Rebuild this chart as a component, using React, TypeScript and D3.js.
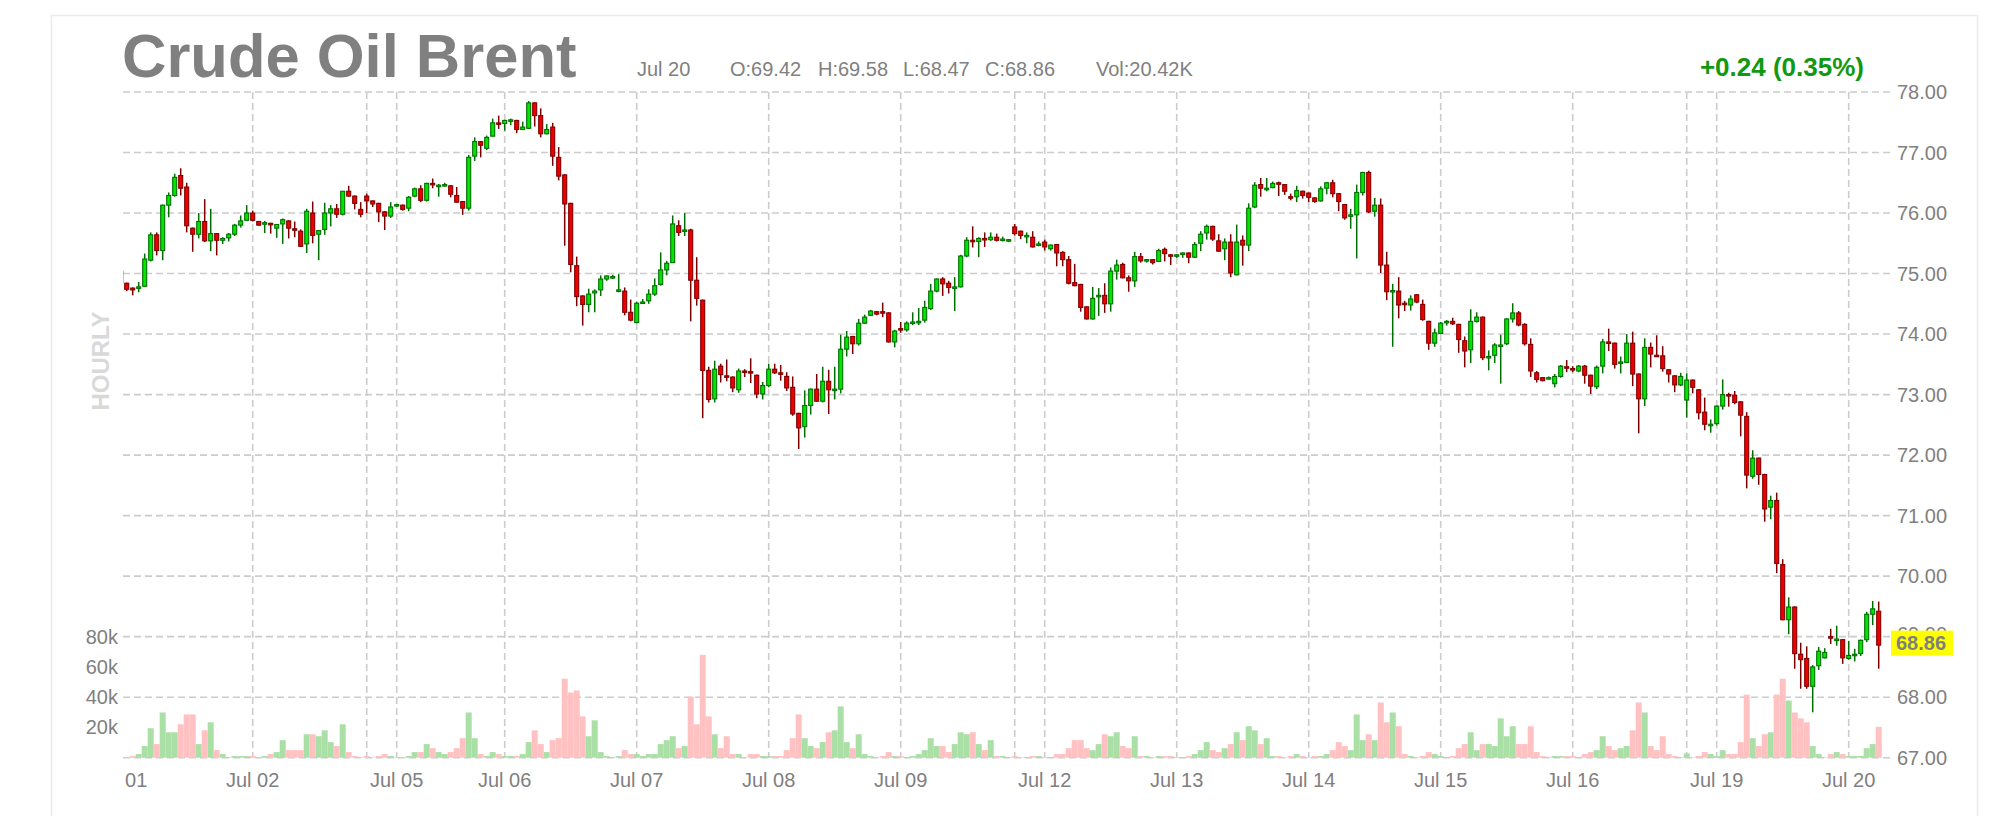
import React from 'react';
import * as d3 from 'd3';

// ---- data (hourly candles, index 0..293) ----
const opens = [
75.04,74.84,74.76,74.76,74.79,75.22,75.64,75.38,76.13,76.29,
76.62,76.43,75.75,75.65,75.86,75.54,75.66,75.55,75.59,75.65,
75.80,75.88,76.00,75.86,75.82,75.83,75.75,75.82,75.87,75.74,
75.70,75.49,76.00,75.65,75.73,76.00,76.07,75.98,76.36,76.28,
76.06,76.28,76.20,76.16,76.02,75.95,76.12,76.13,76.08,76.28,
76.40,76.21,76.49,76.45,76.46,76.45,76.29,76.19,76.08,76.94,
77.18,77.07,77.27,77.49,77.48,77.53,77.53,77.38,77.40,77.82,
77.61,77.31,77.42,76.92,76.63,76.16,75.13,74.63,74.49,74.68,
74.73,74.91,74.94,74.72,74.71,74.36,74.19,74.52,74.55,74.66,
74.82,75.06,75.18,75.79,75.71,75.72,74.89,74.56,73.40,72.93,
73.47,73.31,73.29,73.08,73.39,73.38,73.32,73.01,73.15,73.42,
73.36,73.30,73.12,72.69,72.47,72.82,73.09,72.89,73.22,73.08,
73.09,73.75,73.96,73.84,74.18,74.31,74.37,74.37,74.35,73.87,
74.09,74.07,74.19,74.20,74.23,74.42,74.71,74.91,74.84,74.77,
74.78,75.29,75.55,75.53,75.58,75.56,75.60,75.56,75.54,75.77,
75.70,75.62,75.60,75.47,75.52,75.41,75.48,75.35,75.23,74.85,
74.82,74.45,74.25,74.63,74.64,74.50,75.04,75.15,74.93,74.88,
75.28,75.22,75.23,75.20,75.40,75.31,75.30,75.33,75.34,75.27,
75.50,75.67,75.78,75.54,75.41,75.52,74.98,75.55,75.47,76.10,
76.47,76.40,76.42,76.50,76.47,76.27,76.27,76.36,76.33,76.25,
76.20,76.41,76.50,76.32,76.14,75.96,75.97,76.34,76.67,76.03,
76.13,75.14,74.71,74.71,74.51,74.48,74.65,74.49,74.21,73.85,
74.01,74.20,74.21,74.16,73.89,73.74,74.21,74.28,73.62,73.65,
73.81,73.84,74.25,74.35,74.16,73.83,73.36,73.28,73.27,73.18,
73.30,73.46,73.43,73.39,73.47,73.32,73.13,73.47,73.87,73.85,
73.53,73.53,73.85,73.34,72.93,73.78,73.65,73.64,73.41,73.31,
73.16,72.91,73.24,73.08,72.71,72.50,72.52,72.81,73.00,72.99,
72.88,72.64,71.65,71.95,71.68,71.14,71.25,70.19,69.28,69.49,
68.71,68.64,68.18,68.52,68.65,69.00,68.95,68.95,68.64,68.70,
68.72,68.95,69.37,69.42,
];

const highs = [
75.06,74.85,74.77,74.86,75.33,75.68,75.68,76.14,76.34,76.65,
76.74,76.50,75.76,76.00,76.23,76.07,75.67,75.60,75.67,75.82,
75.96,76.13,76.04,75.87,75.87,75.84,75.82,75.91,75.88,75.86,
75.73,76.07,76.19,75.72,76.17,76.13,76.15,76.36,76.45,76.29,
76.18,76.32,76.21,76.17,76.03,76.18,76.15,76.14,76.28,76.42,
76.46,76.50,76.57,76.48,76.50,76.46,76.43,76.20,76.96,77.25,
77.19,77.28,77.56,77.61,77.54,77.56,77.54,77.51,77.85,77.83,
77.73,77.47,77.49,77.09,76.64,76.17,75.28,74.64,74.75,74.74,
74.97,74.97,74.98,74.99,74.77,74.57,74.53,74.58,74.74,74.92,
75.35,75.21,75.96,75.88,76.00,75.74,75.27,74.57,73.46,73.56,
73.51,73.58,73.30,73.43,73.42,73.60,73.33,73.21,73.51,73.51,
73.49,73.37,73.30,72.70,73.07,73.10,73.34,73.46,73.41,73.46,
73.99,74.05,73.97,74.25,74.32,74.40,74.38,74.52,74.36,74.07,
74.20,74.21,74.36,74.43,74.55,74.83,74.92,74.94,74.88,74.94,
75.31,75.60,75.78,75.60,75.68,75.68,75.66,75.61,75.57,75.82,
75.71,75.68,75.70,75.53,75.56,75.48,75.49,75.37,75.29,75.16,
74.83,74.46,74.78,74.76,74.84,75.10,75.23,75.18,74.97,75.36,
75.34,75.24,75.24,75.41,75.43,75.32,75.32,75.35,75.35,75.52,
75.70,75.81,75.79,75.65,75.58,75.65,75.81,75.63,76.16,76.51,
76.58,76.58,76.52,76.52,76.48,76.32,76.45,76.37,76.34,76.26,
76.44,76.51,76.55,76.33,76.15,76.07,76.47,76.68,76.70,76.25,
76.24,75.36,74.83,74.94,74.55,74.64,74.66,74.57,74.22,74.09,
74.20,74.23,74.27,74.17,73.96,74.41,74.36,74.29,73.73,73.85,
73.99,74.26,74.51,74.38,74.18,73.93,73.39,73.29,73.30,73.34,
73.49,73.57,73.47,73.49,73.49,73.33,73.48,73.92,74.09,73.86,
73.63,74.00,74.04,73.35,73.93,73.86,73.98,73.80,73.42,73.32,
73.36,73.35,73.25,73.09,72.95,72.59,72.82,73.25,73.03,73.06,
72.89,72.71,72.08,71.96,71.69,71.33,71.38,70.28,69.65,69.50,
68.90,68.84,68.53,68.83,68.81,69.13,69.18,68.96,68.93,68.80,
68.95,69.41,69.59,69.58,
];

const lows = [
74.84,74.71,74.64,74.69,74.78,75.20,75.30,75.22,75.93,76.27,
76.29,75.68,75.36,75.58,75.52,75.37,75.30,75.49,75.53,75.62,
75.76,75.87,75.86,75.79,75.67,75.66,75.59,75.49,75.58,75.60,
75.44,75.34,75.50,75.22,75.64,75.78,75.92,75.96,76.27,76.06,
75.93,76.00,76.10,75.85,75.72,75.92,76.10,76.04,76.03,76.26,
76.18,76.19,76.41,76.27,76.44,76.26,76.17,75.97,76.04,76.86,
76.92,77.04,77.27,77.39,77.36,77.45,77.32,77.37,77.39,77.43,
77.25,77.30,76.78,76.54,75.46,75.02,74.46,74.14,74.36,74.36,
74.63,74.88,74.91,74.69,74.31,74.21,74.18,74.50,74.50,74.63,
74.80,74.97,75.18,75.62,75.62,74.21,74.47,72.61,72.87,72.87,
73.20,73.22,73.04,73.03,73.29,73.19,72.94,72.92,73.12,73.34,
73.23,73.06,72.65,72.10,72.29,72.67,72.88,72.87,72.68,72.92,
73.02,73.63,73.67,73.81,74.17,74.30,74.31,74.28,73.86,73.78,
74.02,74.04,74.15,74.15,74.19,74.40,74.69,74.63,74.67,74.38,
74.77,75.27,75.43,75.27,75.44,75.54,75.53,75.53,75.52,75.63,
75.57,75.50,75.43,75.45,75.38,75.38,75.12,75.12,74.82,74.79,
74.37,74.24,74.24,74.30,74.35,74.37,74.90,74.92,74.70,74.78,
75.18,75.18,75.15,75.19,75.20,75.14,75.26,75.26,75.17,75.26,
75.37,75.56,75.54,75.36,75.22,74.94,74.97,75.13,75.37,76.08,
76.27,76.36,76.41,76.28,76.30,76.21,76.18,76.24,76.18,76.17,
76.19,76.31,76.26,76.03,75.89,75.74,75.25,76.29,76.00,75.94,
75.01,74.56,73.79,74.26,74.38,74.39,74.51,74.22,73.74,73.79,
74.00,74.14,74.15,73.69,73.45,73.52,74.19,73.57,73.40,73.52,
73.18,73.82,74.19,74.13,73.81,73.29,73.20,73.22,73.26,73.12,
73.28,73.37,73.37,73.37,73.18,73.01,73.09,73.35,73.72,73.43,
73.35,73.52,73.14,72.36,72.81,73.45,73.63,73.38,73.20,73.04,
73.14,72.62,73.02,72.59,72.41,72.37,72.49,72.75,72.80,72.84,
72.31,71.45,71.61,71.51,70.90,70.94,70.05,69.27,69.04,68.47,
68.14,68.14,67.75,68.45,68.64,68.88,68.85,68.55,68.62,68.59,
68.68,68.91,69.19,68.47,
];

const closes = [
74.85,74.74,74.73,74.78,75.24,75.64,75.38,76.13,76.29,76.59,
76.41,75.79,75.65,75.86,75.54,75.66,75.55,75.58,75.65,75.80,
75.87,76.00,75.88,75.80,75.84,75.82,75.81,75.89,75.75,75.73,
75.45,76.03,75.63,75.71,76.00,76.07,75.98,76.36,76.28,76.16,
75.98,76.20,76.15,76.02,75.95,76.10,76.14,76.06,76.26,76.40,
76.21,76.49,76.47,76.46,76.47,76.31,76.18,76.08,76.92,77.18,
77.12,77.25,77.49,77.48,77.53,77.54,77.38,77.42,77.82,77.61,
77.31,77.38,76.94,76.61,76.15,75.15,74.62,74.49,74.66,74.71,
74.91,74.96,74.95,74.73,74.36,74.23,74.51,74.53,74.66,74.80,
75.06,75.17,75.82,75.68,75.72,74.89,74.59,73.40,72.92,73.42,
73.33,73.30,73.11,73.39,73.38,73.36,73.01,73.15,73.42,73.36,
73.35,73.11,72.68,72.45,72.82,73.09,72.89,73.22,73.08,73.09,
73.75,73.95,73.84,74.18,74.28,74.38,74.33,74.36,73.87,74.05,
74.08,74.18,74.20,74.21,74.44,74.71,74.91,74.83,74.77,74.78,
75.29,75.55,75.54,75.58,75.57,75.60,75.55,75.57,75.56,75.66,
75.63,75.63,75.44,75.49,75.44,75.47,75.34,75.23,74.84,74.80,
74.44,74.25,74.59,74.64,74.50,75.04,75.14,74.93,74.88,75.28,
75.21,75.23,75.18,75.38,75.33,75.30,75.31,75.34,75.27,75.48,
75.65,75.78,75.57,75.37,75.52,75.01,75.52,75.47,76.08,76.46,
76.41,76.41,76.49,76.49,76.36,76.26,76.37,76.29,76.26,76.19,
76.40,76.50,76.32,76.19,75.92,75.97,76.34,76.67,76.02,76.13,
75.14,74.70,74.72,74.48,74.50,74.58,74.53,74.24,73.85,74.02,
74.18,74.21,74.17,73.91,73.72,74.21,74.28,73.61,73.63,73.82,
73.82,74.25,74.35,74.15,73.84,73.39,73.25,73.23,73.28,73.30,
73.47,73.45,73.42,73.47,73.32,73.14,73.45,73.87,73.86,73.50,
73.54,73.85,73.34,72.93,73.78,73.67,73.64,73.43,73.34,73.16,
73.30,73.24,73.12,72.70,72.51,72.51,72.81,73.00,72.99,72.87,
72.66,71.67,71.95,71.68,71.11,71.25,70.21,69.28,69.49,68.72,
68.62,68.18,68.50,68.76,68.74,68.99,68.96,68.65,68.69,68.71,
68.94,69.37,69.46,68.86,
];

// volume in thousands of contracts
const volumesK = [
1.0,0.4,1.1,2.4,7.7,19.5,9.0,29.9,16.8,16.8,
22.1,28.6,28.6,9.0,18.1,23.4,5.0,2.4,0.4,1.1,
1.1,1.1,1.1,0.4,1.1,2.4,3.7,11.6,5.0,5.0,
5.0,15.5,15.5,14.2,18.1,10.3,7.7,22.1,3.7,1.1,
0.4,1.1,0.4,1.1,2.4,1.1,0.4,0.4,1.1,3.7,
3.7,9.0,6.3,3.7,2.4,3.7,6.3,12.9,29.9,12.9,
2.4,1.1,3.7,2.4,1.1,1.1,1.1,2.4,10.3,18.1,
9.0,3.7,11.6,12.9,52.2,43.1,44.4,27.3,14.2,24.7,
3.7,1.1,0.4,1.1,5.0,2.4,2.4,1.1,2.4,2.4,
9.0,11.6,14.2,6.3,7.7,40.4,22.1,68.0,27.3,15.5,
6.3,14.2,2.4,2.4,0.4,2.4,2.4,1.1,1.1,1.1,
1.1,5.0,12.9,28.6,12.9,7.7,6.3,10.3,16.8,18.1,
33.9,10.3,6.3,15.5,2.4,1.1,0.4,1.1,3.7,1.1,
1.1,0.5,1.1,2.4,5.0,12.9,7.7,7.7,3.7,9.0,
16.8,15.5,16.8,9.0,5.0,11.6,1.1,1.1,0.4,1.1,
0.4,0.4,1.1,1.1,0.4,0.4,2.4,2.4,6.3,11.6,
11.6,6.3,5.0,9.0,15.5,14.2,16.8,7.7,6.3,14.2,
1.1,1.1,0.4,1.1,1.1,1.1,0.4,0.4,1.1,2.4,
5.0,10.3,5.0,3.7,6.3,9.0,16.8,11.6,20.8,18.1,
9.0,12.9,1.1,1.1,0.4,1.1,2.4,1.1,0.4,1.1,
1.1,2.4,5.0,10.3,7.7,5.0,28.6,11.6,15.5,11.6,
36.5,23.4,29.9,20.8,2.4,1.1,0.4,1.1,3.7,2.4,
1.1,0.4,1.1,6.3,9.0,16.8,5.0,9.0,9.0,7.7,
26.0,14.2,20.8,9.0,9.0,20.8,3.7,1.1,0.4,1.1,
1.1,1.1,1.1,0.4,2.4,3.7,5.0,14.2,7.7,5.0,
6.3,7.7,18.1,36.5,29.9,7.7,5.0,14.2,2.4,1.1,
0.4,2.8,0.4,1.1,3.7,2.4,1.1,5.0,2.4,2.4,
10.3,41.7,12.9,7.7,15.5,16.8,41.7,52.2,37.8,29.9,
26.0,23.4,7.7,2.4,0.4,2.4,3.7,2.4,1.1,1.1,
1.1,6.3,9.0,20.42,
];

// day boundaries (candle index of first hour) and their labels
const tickIndex = [0, 22, 41, 46, 64, 86, 108, 130, 149, 154, 176, 198, 220, 242, 261, 266, 288];
const tickLabels = ['Jul 01', 'Jul 02', '', 'Jul 05', 'Jul 06', 'Jul 07', 'Jul 08', 'Jul 09', '', 'Jul 12', 'Jul 13', 'Jul 14', 'Jul 15', 'Jul 16', '', 'Jul 19', 'Jul 20'];
const priceTicks = [67, 68, 69, 70, 71, 72, 73, 74, 75, 76, 77, 78];
const volumeTicks = [20, 40, 60, 80];
const volumeTickLabels = ['20k', '40k', '60k', '80k'];

const title = 'Crude Oil Brent';
const headerDate = 'Jul 20';
const headerItems = ['O:69.42', 'H:69.58', 'L:68.47', 'C:68.86', 'Vol:20.42K'];
const changeText = '+0.24 (0.35%)';
const lastPrice = 68.86;

const FONT = '"Liberation Sans", Arial, Helvetica, sans-serif';
const GRAY = '#808080';

export default function App() {
  const W = 2014;
  const H = 816;
  const plotLeft = 123;
  const plotRight = 1890;
  const n = closes.length;

  const x = d3.scaleLinear().domain([0, n - 1]).range([120.7, 120.7 + 6 * (n - 1)]);
  const yP = d3.scaleLinear().domain([67, 78]).range([757.7, 92]);
  const yV = d3.scaleLinear().domain([0, 80]).range([757.7, 636.7]);
  const step = x(1) - x(0);

  const headerX = [730, 818, 903, 985, 1096];

  return (
    <svg width={W} height={H} style={{ position: 'absolute', left: 0, top: 0, background: '#fff' }}
      fontFamily={FONT}>
      <defs>
        <clipPath id="plotClip">
          <rect x={plotLeft} y={80} width={plotRight - plotLeft} height={690} />
        </clipPath>
        <clipPath id="axisClip">
          <rect x={plotLeft} y={760} width={plotRight - plotLeft + 60} height={50} />
        </clipPath>
      </defs>
      <rect x={0} y={0} width={W} height={H} fill="#fff" />
      <rect x={51.5} y={15.5} width={1926} height={900} fill="none" stroke="#ebebeb" strokeWidth={1.5} />

      {/* title & header */}
      <text x={122} y={77} fontSize={61.5} fontWeight="bold" fill={GRAY}>{title}</text>
      <text x={637} y={76} fontSize={20} fill={GRAY}>{headerDate}</text>
      {headerItems.map((t, k) => (
        <text key={t} x={headerX[k]} y={76} fontSize={20} fill={GRAY}>{t}</text>
      ))}
      <text x={1864} y={76} fontSize={26} fontWeight="bold" fill="#119911" textAnchor="end">{changeText}</text>

      {/* HOURLY */}
      <text transform="translate(100,361) rotate(-90)" textAnchor="middle" dominantBaseline="central"
        fontSize={24} fontWeight="bold" fill="#d9d9d9">HOURLY</text>

      {/* grid */}
      <g stroke="#cccccc" strokeWidth={1.6} strokeDasharray="7,4" fill="none">
        {priceTicks.map((p) => (
          <line key={'h' + p} x1={plotLeft} x2={plotRight} y1={yP(p)} y2={yP(p)} />
        ))}
        {tickIndex.filter((ti) => x(ti) >= plotLeft).map((ti) => (
          <line key={'v' + ti} x1={x(ti)} x2={x(ti)} y1={yP(78)} y2={yP(67)} />
        ))}
      </g>

      {/* volume */}
      <g clipPath="url(#plotClip)">
        {volumesK.map((v, i) => {
          const up = closes[i] >= opens[i];
          return (
            <rect key={'vol' + i} x={x(i) - step / 2} width={step} y={yV(v)} height={yV(0) - yV(v)}
              fill={up ? '#aadfa6' : '#ffc1c1'} />
          );
        })}
      </g>

      {/* candles */}
      <g clipPath="url(#plotClip)">
        {closes.map((c, i) => {
          const o = opens[i];
          const up = c >= o;
          const cx = x(i);
          const top = yP(Math.max(o, c));
          const bot = yP(Math.min(o, c));
          const h = Math.max(bot - top, 1.5);
          const dark = up ? '#006e00' : '#7d0000';
          const fill = up ? '#00e600' : '#ee0000';
          return (
            <g key={'c' + i}>
              <line x1={cx} x2={cx} y1={yP(highs[i])} y2={yP(lows[i])} stroke={dark} strokeWidth={1.5} />
              <rect x={cx - 2} y={top} width={4} height={h} fill={fill} stroke={dark} strokeWidth={1.1} />
            </g>
          );
        })}
      </g>

      {/* price axis labels (69.00 sits behind the last-price badge) */}
      {priceTicks.map((p) => (
        <text key={'pl' + p} x={1897} y={p === 69 ? yP(p) - 3 : yP(p)} dy="0.35em" fontSize={20} fill={GRAY}>{p.toFixed(2)}</text>
      ))}
      <rect x={1891} y={yP(lastPrice) - 14.5} width={62} height={25} fill="#ffff00" />
      <text x={1896} y={yP(lastPrice) - 2} dy="0.35em" fontSize={20} fontWeight="bold" fill="#7f7f7f">{lastPrice.toFixed(2)}</text>

      {/* volume axis labels */}
      {volumeTicks.map((v, k) => (
        <text key={'vl' + v} x={118} y={yV(v)} dy="0.35em" fontSize={20} fill={GRAY} textAnchor="end">{volumeTickLabels[k]}</text>
      ))}

      {/* time axis labels */}
      <g clipPath="url(#axisClip)">
        {tickIndex.map((ti, k) => tickLabels[k] ? (
          <text key={'tl' + ti} x={x(ti)} y={787} fontSize={20} fill={GRAY} textAnchor="middle">{tickLabels[k]}</text>
        ) : null)}
      </g>
    </svg>
  );
}
